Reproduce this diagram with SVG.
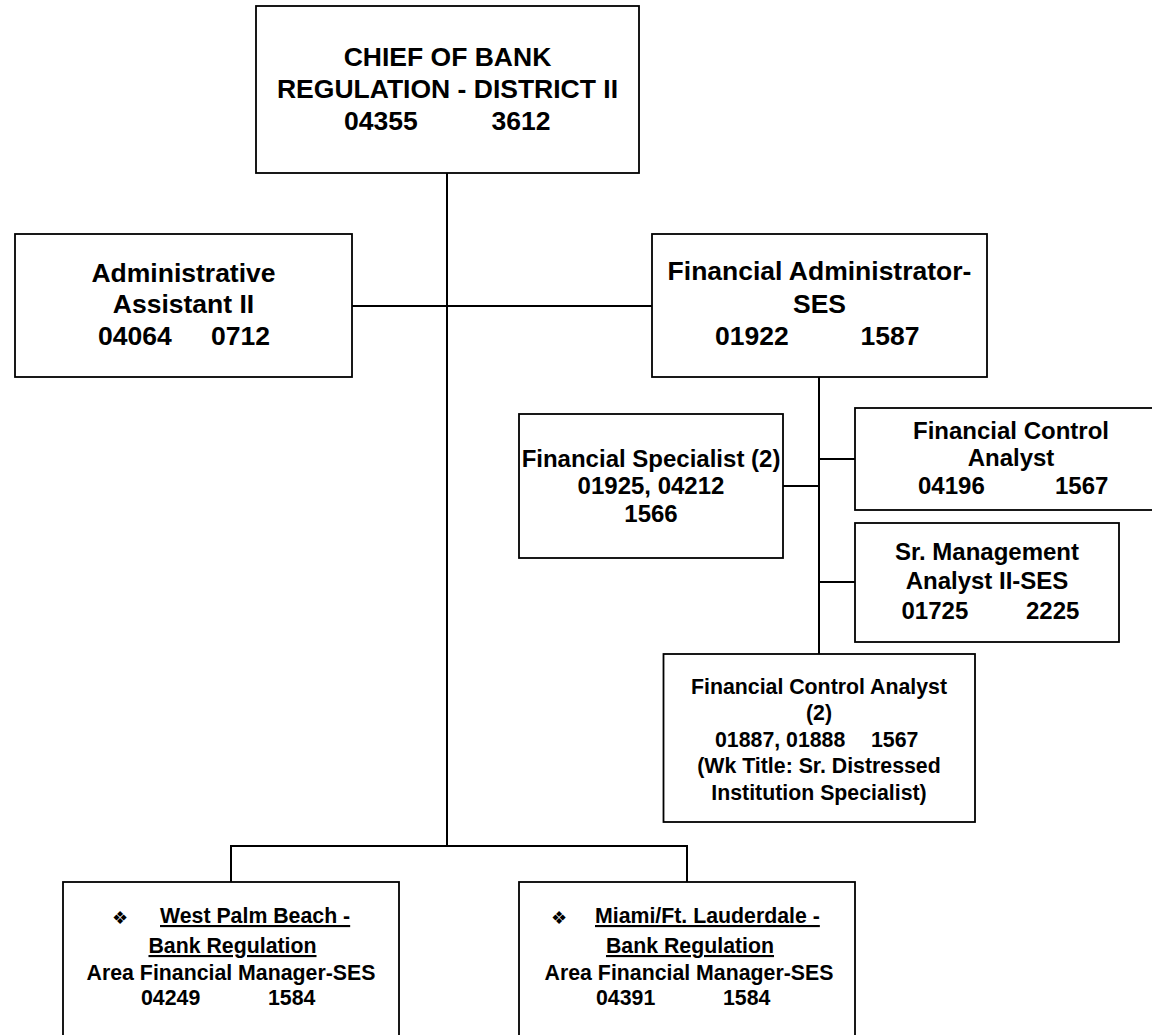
<svg xmlns="http://www.w3.org/2000/svg" width="1152" height="1035" viewBox="0 0 1152 1035">
  <style>
    .box { fill: #ffffff; stroke: #000000; stroke-width: 1.8; }
    .wire { fill: none; stroke: #000000; stroke-width: 2; }
    text { font-family: "Liberation Sans", Arial, sans-serif; font-weight: bold; fill: #000000; }
    .t1 { font-size: 26.5px; }
    .t2 { font-size: 24px; }
    .t3 { font-size: 21.3px; }
    .c { text-anchor: middle; }
    .u { text-decoration: underline; }
    .bullet { font-family: "DejaVu Sans", sans-serif; font-size: 18px; font-weight: normal; }
  </style>
  <rect width="1152" height="1035" fill="#ffffff"/>

  <!-- connectors -->
  <g id="connectors">
    <path class="wire" d="M447 173 V846"/>
    <path class="wire" d="M352 306 H652"/>
    <path class="wire" d="M231 882 V846 H687 V882"/>
    <path class="wire" d="M819 377 V654"/>
    <path class="wire" d="M783 486 H819"/>
    <path class="wire" d="M819 459 H855"/>
    <path class="wire" d="M819 582 H855"/>
  </g>

  <g id="chief">
    <rect class="box" x="256" y="6" width="383" height="167"/>
    <text class="t1 c" x="447.5" y="66">CHIEF OF BANK</text>
    <text class="t1 c" x="447.5" y="98">REGULATION - DISTRICT II</text>
    <text class="t1" x="344" y="130">04355</text>
    <text class="t1" x="491.5" y="130">3612</text>
  </g>

  <g id="admin-assistant">
    <rect class="box" x="15" y="234" width="337" height="143"/>
    <text class="t1 c" x="183.5" y="281.5">Administrative</text>
    <text class="t1 c" x="183.5" y="313">Assistant II</text>
    <text class="t1" x="98" y="345">04064</text>
    <text class="t1" x="211" y="345">0712</text>
  </g>

  <g id="financial-administrator">
    <rect class="box" x="652" y="234" width="335" height="143"/>
    <text class="t1 c" x="819.5" y="280">Financial Administrator-</text>
    <text class="t1 c" x="819.5" y="312.5">SES</text>
    <text class="t1" x="715" y="345">01922</text>
    <text class="t1" x="860.5" y="345">1587</text>
  </g>

  <g id="financial-specialist">
    <rect class="box" x="519" y="414" width="264" height="144"/>
    <text class="t2 c" x="651" y="466.5">Financial Specialist (2)</text>
    <text class="t2 c" x="651" y="494">01925, 04212</text>
    <text class="t2 c" x="651" y="521.5">1566</text>
  </g>

  <g id="financial-control-analyst">
    <rect class="box" x="855" y="408" width="312" height="102"/>
    <text class="t2 c" x="1011" y="438.5">Financial Control</text>
    <text class="t2 c" x="1011" y="466">Analyst</text>
    <text class="t2" x="918" y="494">04196</text>
    <text class="t2" x="1055" y="494">1567</text>
  </g>

  <g id="sr-management-analyst">
    <rect class="box" x="855" y="523" width="264" height="119"/>
    <text class="t2 c" x="987" y="560">Sr. Management</text>
    <text class="t2 c" x="987" y="588.5">Analyst II-SES</text>
    <text class="t2" x="901.5" y="618.5">01725</text>
    <text class="t2" x="1026" y="618.5">2225</text>
  </g>

  <g id="financial-control-analyst-2">
    <rect class="box" x="663.5" y="654" width="311.5" height="168"/>
    <text class="t3 c" x="819" y="693.5">Financial Control Analyst</text>
    <text class="t3 c" x="819" y="720">(2)</text>
    <text class="t3" x="715" y="746.5">01887, 01888</text>
    <text class="t3" x="871" y="746.5">1567</text>
    <text class="t3 c" x="819" y="773">(Wk Title: Sr. Distressed</text>
    <text class="t3 c" x="819" y="799.5">Institution Specialist)</text>
  </g>

  <g id="west-palm-beach">
    <rect class="box" x="63" y="882" width="336" height="160"/>
    <text class="bullet" x="112" y="924">❖</text>
    <text class="t3 u" x="160" y="923">West Palm Beach -</text>
    <text class="t3 c u" x="232.5" y="953">Bank Regulation</text>
    <text class="t3 c" x="231" y="980">Area Financial Manager-SES</text>
    <text class="t3" x="141" y="1005">04249</text>
    <text class="t3" x="268" y="1005">1584</text>
  </g>

  <g id="miami-ft-lauderdale">
    <rect class="box" x="519" y="882" width="336" height="160"/>
    <text class="bullet" x="551" y="924">❖</text>
    <text class="t3 u" x="595" y="923">Miami/Ft. Lauderdale -</text>
    <text class="t3 c u" x="690" y="953">Bank Regulation</text>
    <text class="t3 c" x="689" y="980">Area Financial Manager-SES</text>
    <text class="t3" x="596" y="1005">04391</text>
    <text class="t3" x="723" y="1005">1584</text>
  </g>
</svg>
